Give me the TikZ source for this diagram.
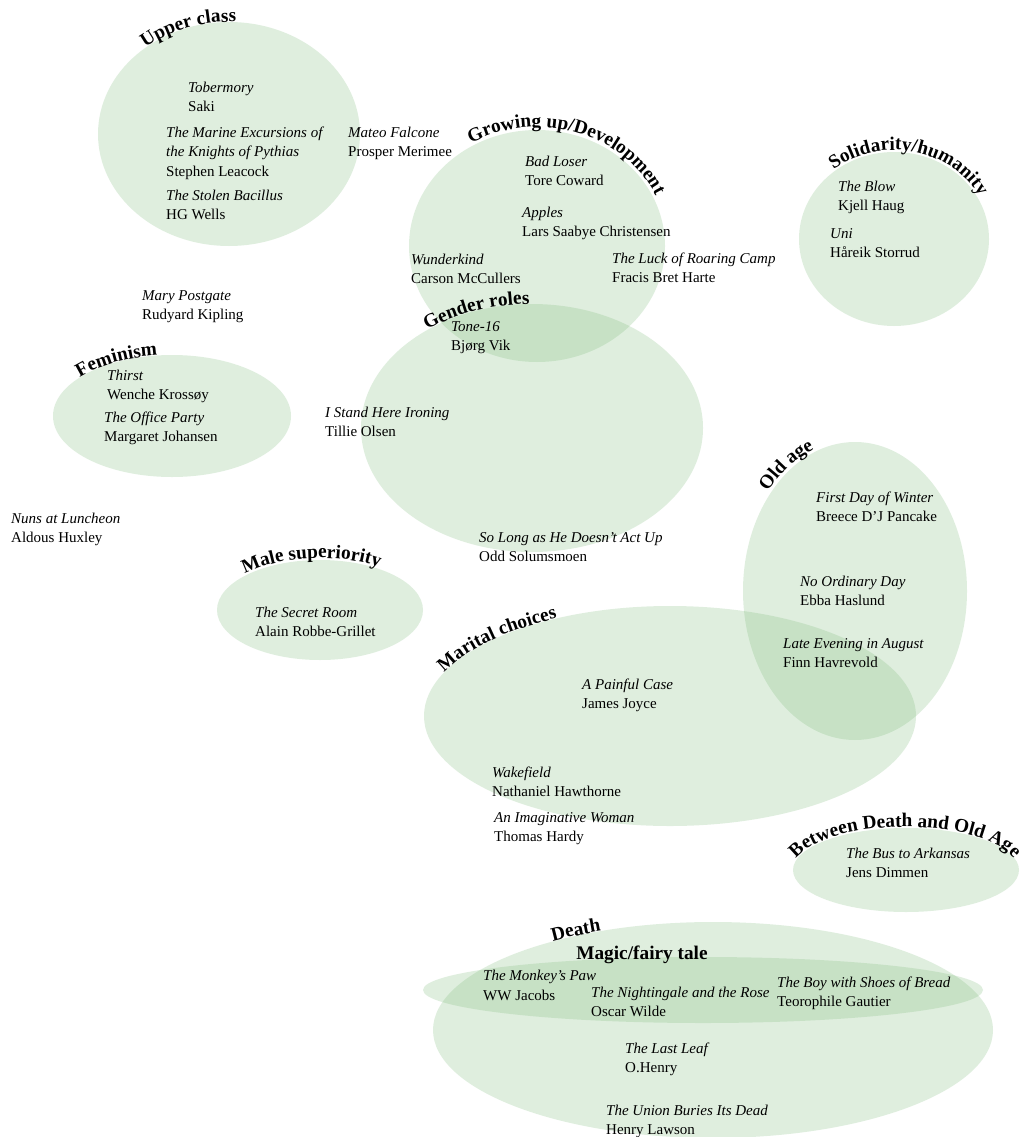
\documentclass[tikz,border=0pt]{standalone}
\usepackage{fontspec}
\setmainfont{Liberation Serif}
\usetikzlibrary{decorations.text}
\definecolor{setgreen}{RGB}{120,185,116}
\newcommand\lblfont{\fontsize{19.3}{21}\selectfont\bfseries}
\tikzset{
 setfill/.style={fill=setgreen, fill opacity=0.23},
 ttl/.style={anchor=base west, inner sep=0pt, font=\fontsize{15}{18}\selectfont\itshape},
 aut/.style={anchor=base west, inner sep=0pt, font=\fontsize{15}{18}\selectfont},
 arclabel/.style={decorate, decoration={text along path, text align=center, text={|\lblfont|#1}}}
}
\begin{document}
\begin{tikzpicture}[x=1pt,y=1pt]
\useasboundingbox (0,0) rectangle (1023,-1137);
\fill[white] (0,0) rectangle (1023,-1137);
% sets
\fill[setfill] (229,-134) ellipse [x radius=131pt, y radius=112pt];
\fill[setfill] (537,-246) ellipse [x radius=128pt, y radius=116pt];
\fill[setfill] (894,-239) ellipse [x radius=95pt, y radius=87pt];
\fill[setfill] (172,-416) ellipse [x radius=119pt, y radius=61pt];
\fill[setfill] (532,-428) ellipse [x radius=171pt, y radius=124pt];
\fill[setfill] (855,-591) ellipse [x radius=112pt, y radius=149pt];
\fill[setfill] (320,-610) ellipse [x radius=103pt, y radius=50pt];
\fill[setfill] (670,-716) ellipse [x radius=246pt, y radius=110pt];
\fill[setfill] (906,-870) ellipse [x radius=113pt, y radius=42pt];
\fill[setfill] (713,-1030) ellipse [x radius=280pt, y radius=108pt];
\fill[setfill] (703,-990) ellipse [x radius=280pt, y radius=33pt];
% set labels
\path[arclabel={Upper class}] ([shift={(170:131pt and 112pt)}]229,-134) arc[start angle=170, end angle=50, x radius=131pt, y radius=112pt];
\path[arclabel={Growing up/Development}] ([shift={(148:131pt and 119pt)}]537,-246) arc[start angle=148, end angle=-4, x radius=131pt, y radius=119pt];
\path[arclabel={Solidarity/humanity}] ([shift={(170:97pt and 89pt)}]894,-239) arc[start angle=170, end angle=-14, x radius=97pt, y radius=89pt];
\path[arclabel={Feminism}] ([shift={(186:119pt and 61pt)}]172,-416) arc[start angle=186, end angle=70, x radius=119pt, y radius=61pt];
\path[arclabel={Gender roles}] ([shift={(162:171pt and 124pt)}]532,-428) arc[start angle=162, end angle=62, x radius=171pt, y radius=124pt];
\path[arclabel={Old age}] ([shift={(165:115pt and 152pt)}]855,-591) arc[start angle=165, end angle=79, x radius=115pt, y radius=152pt];
\path[arclabel={Male superiority}] ([shift={(179:105pt and 52pt)}]320,-610) arc[start angle=179, end angle=19, x radius=105pt, y radius=52pt];
\path[arclabel={Marital choices}] ([shift={(197:246pt and 110pt)}]670,-716) arc[start angle=197, end angle=97, x radius=246pt, y radius=110pt];
\path[arclabel={Between Death and Old Age}] ([shift={(182:113pt and 43pt)}]905,-870) arc[start angle=182, end angle=-2, x radius=113pt, y radius=43pt];
\path[arclabel={Death}] ([shift={(135:280pt and 108pt)}]713,-1030) arc[start angle=135, end angle=105, x radius=280pt, y radius=108pt];
\node[font=\lblfont, anchor=base, inner sep=0pt] (magiclbl) at (642,-959) {Magic/fairy tale};
% stories
\node[ttl] (tob-t) at (188,-93) {Tobermory};
\node[aut] (tob-a) at (188,-112) {Saki};
\node[ttl] (mar-t1) at (166,-138) {The Marine Excursions of};
\node[ttl] (mar-t2) at (166,-157) {the Knights of Pythias};
\node[aut] (mar-a) at (166,-176) {Stephen Leacock};
\node[ttl] (sto-t) at (166,-200) {The Stolen Bacillus};
\node[aut] (sto-a) at (166,-219) {HG Wells};
\node[ttl] (mat-t) at (348,-138) {Mateo Falcone};
\node[aut] (mat-a) at (348,-157) {Prosper Merimee};
\node[ttl] (bad-t) at (525,-166) {Bad Loser};
\node[aut] (bad-a) at (525,-185) {Tore Coward};
\node[ttl] (app-t) at (522,-217) {Apples};
\node[aut] (app-a) at (522,-236) {Lars Saabye Christensen};
\node[ttl] (wun-t) at (411,-264) {Wunderkind};
\node[aut] (wun-a) at (411,-283) {Carson McCullers};
\node[ttl] (luc-t) at (612,-263) {The Luck of Roaring Camp};
\node[aut] (luc-a) at (612,-282) {Fracis Bret Harte};
\node[ttl] (blo-t) at (838,-191) {The Blow};
\node[aut] (blo-a) at (838,-210) {Kjell Haug};
\node[ttl] (uni-t) at (830,-238) {Uni};
\node[aut] (uni-a) at (830,-257) {Håreik Storrud};
\node[ttl] (mpg-t) at (142,-300) {Mary Postgate};
\node[aut] (mpg-a) at (142,-319) {Rudyard Kipling};
\node[ttl] (thi-t) at (107,-380) {Thirst};
\node[aut] (thi-a) at (107,-399) {Wenche Krossøy};
\node[ttl] (off-t) at (104,-422) {The Office Party};
\node[aut] (off-a) at (104,-441) {Margaret Johansen};
\node[ttl] (ton-t) at (451,-331) {Tone-16};
\node[aut] (ton-a) at (451,-350) {Bjørg Vik};
\node[ttl] (sta-t) at (325,-417) {I Stand Here Ironing};
\node[aut] (sta-a) at (325,-436) {Tillie Olsen};
\node[ttl] (nun-t) at (11,-523) {Nuns at Luncheon};
\node[aut] (nun-a) at (11,-542) {Aldous Huxley};
\node[ttl] (sol-t) at (479,-542) {So Long as He Doesn’t Act Up};
\node[aut] (sol-a) at (479,-561) {Odd Solumsmoen};
\node[ttl] (fir-t) at (816,-502) {First Day of Winter};
\node[aut] (fir-a) at (816,-521) {Breece D’J Pancake};
\node[ttl] (noo-t) at (800,-586) {No Ordinary Day};
\node[aut] (noo-a) at (800,-605) {Ebba Haslund};
\node[ttl] (lat-t) at (783,-648) {Late Evening in August};
\node[aut] (lat-a) at (783,-667) {Finn Havrevold};
\node[ttl] (sec-t) at (255,-617) {The Secret Room};
\node[aut] (sec-a) at (255,-636) {Alain Robbe-Grillet};
\node[ttl] (pai-t) at (582,-689) {A Painful Case};
\node[aut] (pai-a) at (582,-708) {James Joyce};
\node[ttl] (wak-t) at (492,-777) {Wakefield};
\node[aut] (wak-a) at (492,-796) {Nathaniel Hawthorne};
\node[ttl] (ima-t) at (494,-822) {An Imaginative Woman};
\node[aut] (ima-a) at (494,-841) {Thomas Hardy};
\node[ttl] (bus-t) at (846,-858) {The Bus to Arkansas};
\node[aut] (bus-a) at (846,-877) {Jens Dimmen};
\node[ttl] (mon-t) at (483,-980) {The Monkey’s Paw};
\node[aut] (mon-a) at (483,-1000) {WW Jacobs};
\node[ttl] (nig-t) at (591,-997) {The Nightingale and the Rose};
\node[aut] (nig-a) at (591,-1016) {Oscar Wilde};
\node[ttl] (boy-t) at (777,-987) {The Boy with Shoes of Bread};
\node[aut] (boy-a) at (777,-1006) {Teorophile Gautier};
\node[ttl] (las-t) at (625,-1053) {The Last Leaf};
\node[aut] (las-a) at (625,-1072) {O.Henry};
\node[ttl] (uni2-t) at (606,-1115) {The Union Buries Its Dead};
\node[aut] (uni2-a) at (606,-1134) {Henry Lawson};
\end{tikzpicture}
\end{document}
